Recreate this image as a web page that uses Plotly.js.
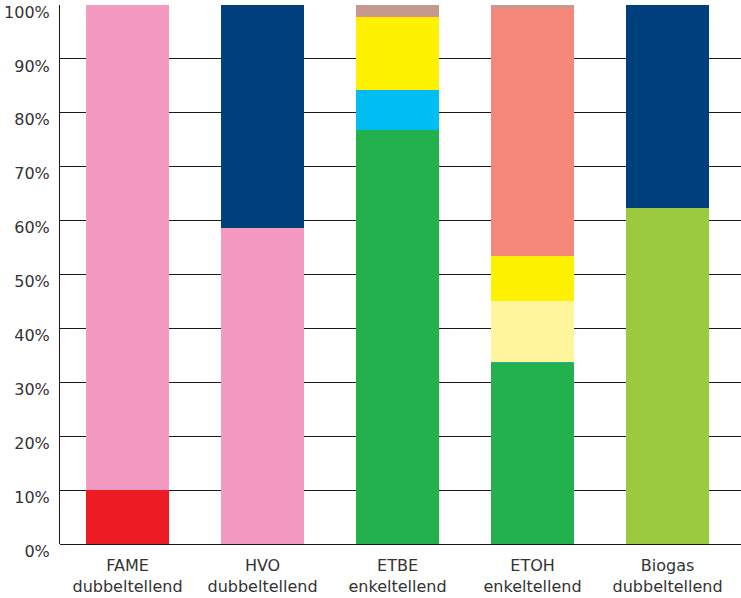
<!DOCTYPE html>
<html>
<head>
<meta charset="utf-8">
<script src="https://cdn.plot.ly/plotly-3.0.1.min.js"></script>
<style>
  html, body { margin: 0; padding: 0; background: #fff; }
  #chart { width: 741px; height: 598px; }
</style>
</head>
<body>
<div id="chart"></div>
<script>
// Categories (x axis)
const categories = [
    'FAME<br>dubbeltellend',
    'HVO<br>dubbeltellend',
    'ETBE<br>enkeltellend',
    'ETOH<br>enkeltellend',
    'Biogas<br>dubbeltellend'
];

// Share per segment, in percent, bottom to top
const redPart        = [10,   0,    0,    0,    0];
const pinkPart       = [90,   58.7, 0,    0,    0];
const greenPart      = [0,    0,    76.9, 33.5, 0];
const limePart       = [0,    0,    0,    0,    62.3];
const tealPart       = [0,    0,    0,    0.2,  0];
const bluePart       = [0,    0,    7.3,  0,    0];
const paleYellowPart = [0,    0,    0,    11.3, 0];
const yellowPart     = [0,    0,    13.5, 8.5,  0];
const salmonPart     = [0,    0,    0.2,  46.0, 0];
const brownPart      = [0,    0,    2.1,  0.5,  0];
const navyPart       = [0,    41.3, 0,    0,    37.7];

const segments = [
    { y: redPart,        color: '#ED1C24' },
    { y: pinkPart,       color: '#F49AC1' },
    { y: greenPart,      color: '#22B14C' },
    { y: limePart,       color: '#9BCA3E' },
    { y: tealPart,       color: '#1DB59E' },
    { y: bluePart,       color: '#00BDF2' },
    { y: paleYellowPart, color: '#FFF59D' },
    { y: yellowPart,     color: '#FFF200' },
    { y: salmonPart,     color: '#F4877A' },
    { y: brownPart,      color: '#C49A8E' },
    { y: navyPart,       color: '#003F7D' }
];

const traces = segments.map(s => ({
    type: 'bar',
    x: categories,
    y: s.y,
    marker: { color: s.color, line: { width: 0 } },
    hoverinfo: 'skip',
    showlegend: false
}));

const font = { family: 'DejaVu Sans, Verdana, sans-serif', size: 16, color: '#333333' };

Plotly.newPlot('chart', traces, {
    width: 741,
    height: 598,
    barmode: 'stack',
    bargap: 0.39,
    margin: { l: 60, r: 0, t: 5, b: 54 },
    paper_bgcolor: '#ffffff',
    plot_bgcolor: '#ffffff',
    font: font,
    xaxis: {
        type: 'category',
        range: [-0.5, 4.544],
        showgrid: false,
        zeroline: false,
        showline: false,
        ticks: '',
        tickfont: font,
        ticklabelstandoff: 10
    },
    yaxis: {
        range: [0, 100],
        dtick: 10,
        ticksuffix: '%',
        showgrid: true,
        gridcolor: '#1a1a1a',
        gridwidth: 1,
        zeroline: true,
        zerolinecolor: '#1a1a1a',
        zerolinewidth: 1,
        showline: true,
        linecolor: '#1a1a1a',
        linewidth: 1,
        ticks: '',
        tickfont: font,
        ticklabelstandoff: 6,
        ticklabelshift: 7
    }
}, { displayModeBar: false, staticPlot: true });
</script>
</body>
</html>
